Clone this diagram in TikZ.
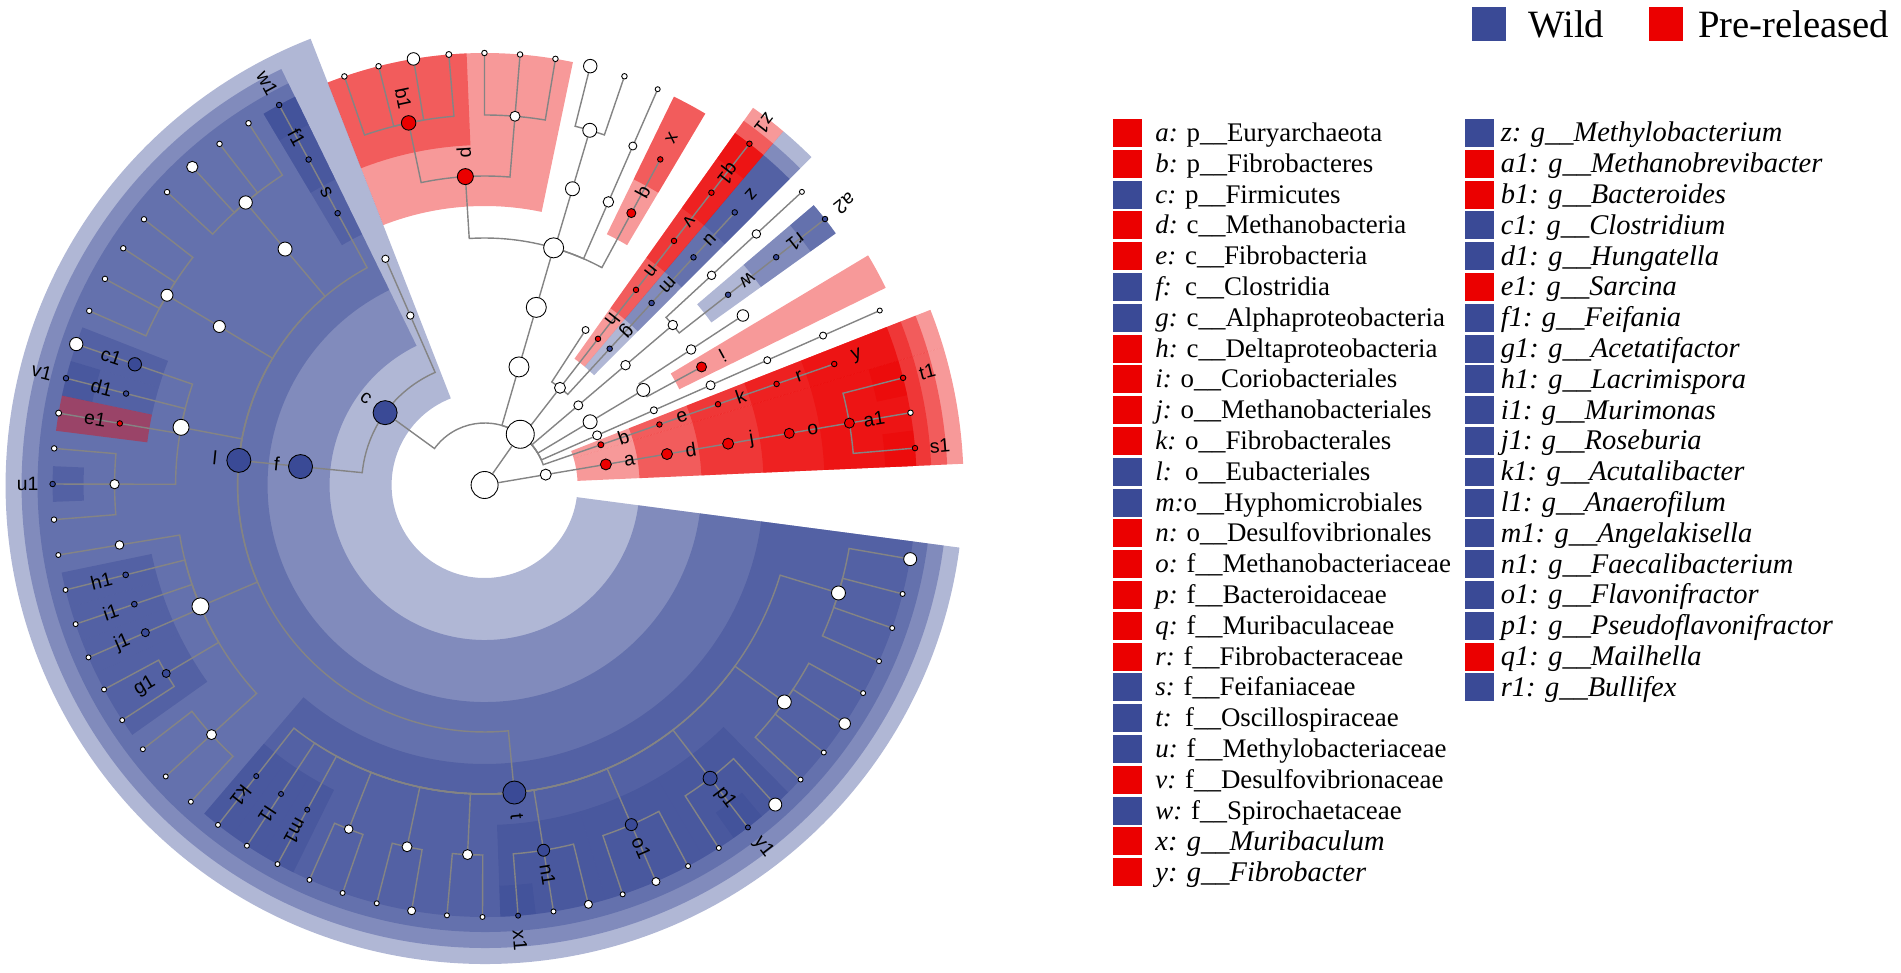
\documentclass[tikz,border=0pt]{standalone}
\usepackage{fontspec}
\setmainfont{Liberation Serif}
\newfontfamily\labfont{Liberation Sans}
\usetikzlibrary{calc,positioning}
\definecolor{wildblue}{RGB}{58,74,150}
\definecolor{prered}{RGB}{235,0,0}
\definecolor{brgray}{RGB}{132,132,132}
\pgfdeclarelayer{shade}
\pgfdeclarelayer{branch}
\pgfsetlayers{shade,branch,main}
\newcommand\clade[5]{\fill[#1] (#2:#4) arc[start angle=#2,end angle=#3,radius=#4*0.2mm] -- (#3:#5) arc[start angle=#3,end angle=#2,radius=#5*0.2mm] -- cycle;}

\begin{document}
\begin{tikzpicture}[x=0.2mm,y=0.2mm,
  nd/.style={circle,draw=black,line width=0.5pt,inner sep=0pt,minimum size=#1*0.2mm},
  wn/.style={nd=#1,fill=white},
  rn/.style={nd=#1,fill=prered},
  bn/.style={nd=#1,fill=wildblue},
  rw/.style={fill=prered,fill opacity=0.4},
  bw/.style={fill=wildblue,fill opacity=0.4},
  brl/.style={draw=brgray,line width=0.8pt},
  br/.style={brl,to path={let \p0=(ctr),\p1=(\tikztostart),\p2=(\tikztotarget),
    \n1={mod(atan2(\y1-\y0,\x1-\x0)+360,360)},\n2={mod(atan2(\y2-\y0,\x2-\x0)+360,360)},
    \n3={veclen(\x1-\x0,\y1-\y0)} in (\tikztostart.center) arc[start angle=\n1,end angle=\n2,radius=\n3] -- (\tikztotarget)}},
  lab/.style={font=\labfont\fontsize{11}{13}\selectfont,inner sep=0pt},
  lsq/.style={minimum width=5.8mm,minimum height=5.6mm,inner sep=0pt,outer sep=0pt},
  ltx/.style={font=\fontsize{15.3}{18}\selectfont,inner sep=0pt,text height=10.4pt,text depth=0.7pt},
  lit/.style={font=\fontsize{16.2}{19}\selectfont,inner sep=0pt,text height=10.8pt,text depth=0.7pt},
  tsq/.style={minimum size=6.8mm,inner sep=0pt,outer sep=0pt},
  ttx/.style={font=\fontsize{22}{26}\selectfont,inner sep=0pt}]
\useasboundingbox (0,0) rectangle (1901,972);

\begin{scope}[shift={(484.6,487)}]
\coordinate (ctr) at (0,0);
\node[wn=27] (root) at (0,0) {};
\node[wn=11] (arch) at (9.63:62) {};
\node[rn=11] (eury) at (9.63:123) {};
\node[rn=11] (mbac) at (9.63:185) {};
\node[rn=11] (mbal) at (9.63:247) {};
\node[rn=10] (mbce) at (9.63:309) {};
\node[rn=10] (mbre) at (9.63:370) {};
\node[rn=5.5] (ss1) at (4.90:432) {};
\node[wn=5.5] (as0) at (9.63:432) {};
\node[rn=5.5] (st1) at (14.36:432) {};

\node[wn=28] (bact) at (54.88:62) {};
\node[rn=6] (fbr) at (19.09:123) {};
\node[rn=5.5] (fbia) at (19.09:185) {};
\node[rn=5.5] (fbal) at (19.09:247) {};
\node[rn=5.5] (fbce) at (19.09:309) {};
\node[rn=5.5] (fbtr) at (19.09:370) {};
\node[wn=9] (xp) at (23.82:123) {};
\node[wn=7] (xc) at (23.82:185) {};
\node[wn=9] (xo) at (23.82:247) {};
\node[wn=7] (xf) at (23.82:309) {};
\node[wn=7] (xg) at (23.82:370) {};
\node[wn=5] (xs) at (23.82:432) {};
\node[wn=14] (acp) at (30.91:123) {};
\node[wn=13] (acc) at (30.91:185) {};
\node[rn=10] (cori) at (28.55:247) {};
\node[wn=9.5] (aco) at (33.27:247) {};
\node[wn=11.5] (acf) at (33.27:309) {};
\node[wn=9] (spp) at (40.37:123) {};
\node[wn=9.5] (spc) at (40.37:185) {};
\node[wn=9.5] (spo) at (40.37:247) {};
\node[bn=5.5] (spce) at (38.00:309) {};
\node[bn=5.5] (bull) at (38.00:370) {};
\node[bn=5.5] (sa2) at (38.00:432) {};
\node[wn=8.5] (spf) at (42.73:309) {};
\node[wn=8.5] (spg) at (42.73:370) {};
\node[wn=5] (sps) at (42.73:432) {};
\node[wn=11] (prp) at (52.19:123) {};
\node[bn=5.5] (alph) at (47.46:185) {};
\node[bn=5.5] (hyph) at (47.46:247) {};
\node[bn=5.5] (mlce) at (47.46:309) {};
\node[bn=5.5] (mlba) at (47.46:370) {};
\node[rn=5.5] (delt) at (52.19:185) {};
\node[rn=5.5] (dsal) at (52.19:247) {};
\node[rn=5.5] (dsce) at (52.19:309) {};
\node[rn=5.5] (mail) at (52.19:370) {};
\node[rn=5.5] (sz1) at (52.19:432) {};
\node[wn=7] (prc) at (56.92:185) {};
\node[wn=20] (bdp) at (73.77:123) {};
\node[wn=20] (bdc) at (73.77:185) {};
\node[wn=20] (bdo) at (73.77:247) {};
\node[rn=9] (mrce) at (61.65:309) {};
\node[rn=5.5] (mrba) at (61.65:370) {};
\node[wn=10.5] (bf2) at (66.38:309) {};
\node[wn=8] (bg2) at (66.38:370) {};
\node[wn=5] (bs2) at (66.38:432) {};
\node[wn=14] (bf3) at (73.48:309) {};
\node[wn=14] (bg3) at (73.48:370) {};
\node[wn=5.5] (bs3a) at (71.11:432) {};
\node[wn=13.5] (bs3b) at (75.84:432) {};
\node[rn=16] (bdce) at (93.57:309) {};
\node[wn=10] (bg4) at (85.29:370) {};
\node[wn=5.5] (bs4a) at (80.56:432) {};
\node[wn=5.5] (bs4b) at (85.29:432) {};
\node[wn=5.5] (bs4c) at (90.02:432) {};
\node[rn=14.5] (bdes) at (101.85:370) {};
\node[wn=6] (bs5a) at (94.75:432) {};
\node[wn=12.5] (bs5b) at (99.48:432) {};
\node[wn=5.5] (bs5c) at (104.21:432) {};
\node[wn=5.5] (bs5d) at (108.94:432) {};

\node[bn=24] (firm) at (143.98:123) {};
\node[wn=7.3] (fc2) at (113.67:185) {};
\node[wn=7.3] (fo2) at (113.67:247) {};
\node[bn=24] (clia) at (174.28:185) {};
\node[bn=24] (euba) at (174.28:247) {};
\node[bn=5.5] (feic) at (118.40:309) {};
\node[bn=5.5] (feif) at (118.40:370) {};
\node[bn=5.5] (sw1) at (118.40:432) {};
\node[wn=14] (ff1) at (130.22:309) {};
\node[wn=13.3] (fg1) at (130.22:370) {};
\node[wn=5.5] (fs1a) at (123.13:432) {};
\node[wn=5.5] (fs1b) at (127.85:432) {};
\node[wn=11.3] (fs1c) at (132.58:432) {};
\node[wn=5.5] (fs1d) at (137.31:432) {};
\node[wn=12] (ff2) at (149.14:309) {};
\node[wn=12] (fg2) at (149.14:370) {};
\node[wn=5.5] (fs2a) at (142.04:432) {};
\node[wn=5.5] (fs2b) at (146.77:432) {};
\node[wn=5.5] (fs2c) at (151.50:432) {};
\node[wn=5.5] (fs2d) at (156.23:432) {};
\node[wn=16] (ff3) at (169.24:309) {};
\node[bn=13.3] (clos) at (160.96:370) {};
\node[wn=13.3] (fs3a) at (160.96:432) {};
\node[bn=5.5] (hung) at (165.69:370) {};
\node[bn=5.5] (sv1) at (165.69:432) {};
\node[rn=5.5] (sarc) at (170.42:370) {};
\node[wn=6] (fs3b) at (170.42:432) {};
\node[wn=9.3] (fg3) at (179.87:370) {};
\node[wn=5.5] (fs3c) at (175.14:432) {};
\node[bn=5.5] (su1) at (179.87:432) {};
\node[wn=5.5] (fs3d) at (184.60:432) {};
\node[wn=17] (ff4) at (203.13:309) {};
\node[wn=8.6] (fg4) at (189.33:370) {};
\node[wn=5] (fs4a) at (189.33:432) {};
\node[bn=5.7] (lacr) at (194.06:370) {};
\node[wn=5] (fs4b) at (194.06:432) {};
\node[bn=5.7] (muri) at (198.79:370) {};
\node[wn=5] (fs4c) at (198.79:432) {};
\node[bn=8] (rose) at (203.52:370) {};
\node[wn=5] (fs4d) at (203.52:432) {};
\node[bn=8] (acet) at (210.62:370) {};
\node[wn=5] (fs4e) at (208.25:432) {};
\node[wn=5] (fs4f) at (212.98:432) {};
\node[wn=10] (fg5) at (222.43:370) {};
\node[wn=5] (fs5a) at (217.71:432) {};
\node[wn=5] (fs5b) at (222.43:432) {};
\node[wn=5] (fs5c) at (227.16:432) {};
\node[bn=23] (osci) at (275.53:309) {};
\node[bn=5] (acut) at (231.89:370) {};
\node[wn=5] (os1) at (231.89:432) {};
\node[bn=5] (anae) at (236.62:370) {};
\node[wn=5] (os2) at (236.62:432) {};
\node[bn=5] (ange) at (241.35:370) {};
\node[wn=5] (os3) at (241.35:432) {};
\node[wn=8.6] (og1) at (248.45:370) {};
\node[wn=5] (os4) at (246.08:432) {};
\node[wn=5] (os5) at (250.81:432) {};
\node[wn=10] (og2) at (257.90:370) {};
\node[wn=5] (os6) at (255.54:432) {};
\node[wn=8] (os7) at (260.27:432) {};
\node[wn=10] (og3) at (267.36:370) {};
\node[wn=5] (os8) at (265.00:432) {};
\node[wn=5] (os9) at (269.72:432) {};
\node[bn=12] (faec) at (279.18:370) {};
\node[bn=5] (sx1) at (274.45:432) {};
\node[wn=5] (os10) at (279.18:432) {};
\node[wn=8] (os11) at (283.91:432) {};
\node[bn=12] (flav) at (293.37:370) {};
\node[wn=5] (os12) at (288.64:432) {};
\node[wn=8] (os13) at (293.37:432) {};
\node[wn=5] (os14) at (298.10:432) {};
\node[bn=14] (psfl) at (307.56:370) {};
\node[wn=5] (os15) at (302.83:432) {};
\node[bn=5] (sy1) at (307.56:432) {};
\node[wn=13] (os16) at (312.29:432) {};
\node[wn=14] (og4) at (324.10:370) {};
\node[wn=5] (os17) at (317.01:432) {};
\node[wn=5] (os18) at (321.74:432) {};
\node[wn=11.5] (os19) at (326.47:432) {};
\node[wn=5] (os20) at (331.20:432) {};
\node[wn=14] (og5) at (343.03:370) {};
\node[wn=5] (os21) at (335.93:432) {};
\node[wn=5] (os22) at (340.66:432) {};
\node[wn=5] (os23) at (345.39:432) {};
\node[wn=13] (os24) at (350.12:432) {};

\begin{pgfonlayer}{branch}
\draw[brl] (root) -- (arch) (root) -- (bact);
\draw[br] (arch) edge (eury) (eury) edge (mbac) (mbac) edge (mbal) (mbal) edge (mbce) (mbce) edge (mbre) (mbre) edge (ss1) edge (as0) edge (st1);
\draw[br] (bact) edge (fbr) edge (xp) edge (acp) edge (spp) edge (prp) edge (bdp) edge (firm);
\draw[br] (fbr) edge (fbia) (fbia) edge (fbal) (fbal) edge (fbce) (fbce) edge (fbtr);
\draw[br] (xp) edge (xc) (xc) edge (xo) (xo) edge (xf) (xf) edge (xg) (xg) edge (xs);
\draw[br] (acp) edge (acc) (acc) edge (cori) edge (aco) (aco) edge (acf);
\draw[br] (spp) edge (spc) (spc) edge (spo) (spo) edge (spce) edge (spf) (spce) edge (bull) (bull) edge (sa2) (spf) edge (spg) (spg) edge (sps);
\draw[br] (prp) edge (alph) edge (delt) edge (prc) (alph) edge (hyph) (hyph) edge (mlce) (mlce) edge (mlba) (delt) edge (dsal) (dsal) edge (dsce) (dsce) edge (mail) (mail) edge (sz1);
\draw[br] (bdp) edge (bdc) (bdc) edge (bdo) (bdo) edge (mrce) edge (bf2) edge (bf3) edge (bdce) (mrce) edge (mrba) (bf2) edge (bg2) (bg2) edge (bs2) (bf3) edge (bg3) (bg3) edge (bs3a) edge (bs3b);
\draw[br] (bdce) edge (bg4) edge (bdes) (bg4) edge (bs4a) edge (bs4b) edge (bs4c) (bdes) edge (bs5a) edge (bs5b) edge (bs5c) edge (bs5d);
\draw[br] (firm) edge (fc2) edge (clia) (fc2) edge (fo2) (clia) edge (euba) (euba) edge (feic) edge (ff1) edge (ff2) edge (ff3) edge (ff4) edge (osci);
\draw[br] (feic) edge (feif) (feif) edge (sw1) (ff1) edge (fg1) (fg1) edge (fs1a) edge (fs1b) edge (fs1c) edge (fs1d) (ff2) edge (fg2) (fg2) edge (fs2a) edge (fs2b) edge (fs2c) edge (fs2d);
\draw[br] (ff3) edge (clos) edge (hung) edge (sarc) edge (fg3) (clos) edge (fs3a) (hung) edge (sv1) (sarc) edge (fs3b) (fg3) edge (fs3c) edge (su1) edge (fs3d);
\draw[br] (ff4) edge (fg4) edge (lacr) edge (muri) edge (rose) edge (acet) edge (fg5) (fg4) edge (fs4a) (lacr) edge (fs4b) (muri) edge (fs4c) (rose) edge (fs4d) (acet) edge (fs4e) edge (fs4f) (fg5) edge (fs5a) edge (fs5b) edge (fs5c);
\draw[br] (osci) edge (acut) edge (anae) edge (ange) edge (og1) edge (og2) edge (og3) edge (faec) edge (flav) edge (psfl) edge (og4) edge (og5);
\draw[br] (acut) edge (os1) (anae) edge (os2) (ange) edge (os3) (og1) edge (os4) edge (os5) (og2) edge (os6) edge (os7) (og3) edge (os8) edge (os9);
\draw[br] (faec) edge (sx1) edge (os10) edge (os11) (flav) edge (os12) edge (os13) edge (os14) (psfl) edge (os15) edge (sy1) edge (os16);
\draw[br] (og4) edge (os17) edge (os18) edge (os19) edge (os20) (og5) edge (os21) edge (os22) edge (os23) edge (os24);
\end{pgfonlayer}

\begin{pgfonlayer}{shade}
\clade{rw}{2.54}{16.72}{93}{479}
\clade{rw}{2.54}{16.72}{155}{463}
\clade{rw}{2.54}{16.72}{217}{447}
\clade{rw}{2.54}{16.72}{279}{432}
\clade{rw}{2.54}{16.72}{340}{432}
\clade{rw}{2.54}{7.26}{401}{432}
\clade{rw}{11.99}{16.72}{401}{432}
\clade{rw}{16.72}{21.45}{93}{479}
\clade{rw}{16.72}{21.45}{155}{463}
\clade{rw}{16.72}{21.45}{217}{447}
\clade{rw}{16.72}{21.45}{279}{432}
\clade{rw}{16.72}{21.45}{340}{432}
\clade{rw}{26.18}{30.91}{217}{447}
\clade{bw}{35.63}{40.37}{279}{432}
\clade{bw}{35.63}{40.37}{340}{432}
\clade{bw}{35.63}{40.37}{401}{432}
\clade{bw}{45.09}{49.82}{155}{463}
\clade{bw}{45.09}{49.82}{217}{447}
\clade{bw}{45.09}{49.82}{279}{432}
\clade{bw}{45.09}{49.82}{340}{432}
\clade{rw}{49.82}{54.56}{155}{463}
\clade{rw}{49.82}{54.56}{217}{447}
\clade{rw}{49.82}{54.56}{279}{432}
\clade{rw}{49.82}{54.56}{340}{432}
\clade{rw}{49.82}{54.56}{401}{432}
\clade{rw}{59.28}{64.01}{279}{432}
\clade{rw}{59.28}{64.01}{340}{432}
\clade{rw}{78.20}{111.30}{279}{432}
\clade{rw}{92.39}{111.30}{340}{432}
\clade{bw}{111.30}{352.49}{93}{479}
\clade{bw}{116.04}{352.49}{155}{463}
\clade{bw}{116.04}{352.49}{217}{447}
\clade{bw}{116.04}{120.77}{279}{432}
\clade{bw}{116.04}{120.77}{340}{432}
\clade{bw}{116.04}{120.77}{401}{432}
\clade{bw}{158.59}{163.32}{340}{432}
\clade{bw}{163.32}{168.06}{340}{432}
\clade{bw}{163.32}{168.06}{401}{432}
\clade{rw}{168.06}{172.79}{340}{432}
\clade{bw}{177.50}{182.24}{401}{432}
\clade{bw}{191.70}{196.43}{340}{432}
\clade{bw}{196.43}{201.16}{340}{432}
\clade{bw}{201.16}{205.88}{340}{432}
\clade{bw}{205.88}{215.35}{340}{432}
\clade{bw}{229.53}{352.49}{279}{432}
\clade{bw}{229.53}{234.26}{340}{432}
\clade{bw}{234.26}{238.99}{340}{432}
\clade{bw}{238.99}{243.72}{340}{432}
\clade{bw}{272.09}{286.27}{340}{432}
\clade{bw}{272.09}{276.82}{401}{432}
\clade{bw}{286.27}{300.46}{340}{432}
\clade{bw}{300.46}{314.65}{340}{432}
\clade{bw}{305.20}{309.93}{401}{432}
\end{pgfonlayer}

\node[lab,rotate=9.63] (ta) at (9.63:147) {a};
\node[lab,rotate=9.63] (td) at (9.63:209) {d};
\node[lab,rotate=9.63] (tj) at (9.63:271) {j};
\node[lab,rotate=9.63] (tlo) at (9.63:333) {o};
\node[lab,rotate=9.63] (ta1) at (9.63:395) {a1};
\node[lab,rotate=4.90] (ts1) at (4.90:457) {s1};
\node[lab,rotate=14.36] (tt1) at (14.36:457) {t1};
\node[lab,rotate=19.09] (tb) at (19.09:147) {b};
\node[lab,rotate=19.09] (te) at (19.09:209) {e};
\node[lab,rotate=19.09] (tk) at (19.09:271) {k};
\node[lab,rotate=19.09] (tr) at (19.09:333) {r};
\node[lab,rotate=19.09] (ty) at (19.09:394) {y};
\node[lab,rotate=-151.45] (ti) at (28.55:271) {i};
\node[lab,rotate=-142] (tw) at (38.00:333) {w};
\node[lab,rotate=-142] (tr1) at (38.00:395) {r1};
\node[lab,rotate=-142] (ta2) at (38.00:457) {a2};
\node[lab,rotate=-132.54] (tg) at (47.46:209) {g};
\node[lab,rotate=-132.54] (tm) at (47.46:271) {m};
\node[lab,rotate=-132.54] (tu) at (47.46:333) {u};
\node[lab,rotate=-132.54] (tz) at (47.46:394) {z};
\node[lab,rotate=-127.81] (th) at (52.19:209) {h};
\node[lab,rotate=-127.81] (tn) at (52.19:271) {n};
\node[lab,rotate=-127.81] (tv) at (52.19:333) {v};
\node[lab,rotate=-127.81] (tq1) at (52.19:395) {q1};
\node[lab,rotate=-127.81] (tz1) at (52.19:457) {z1};
\node[lab,rotate=-118.35] (tq) at (61.65:333) {q};
\node[lab,rotate=-118.35] (tx) at (61.65:394) {x};
\node[lab,rotate=-86.43] (tp) at (93.57:333) {p};
\node[lab,rotate=-78.15] (tb1) at (101.85:395) {b1};
\node[lab,rotate=-36.02] (tc) at (143.98:147) {c};
\node[lab,rotate=-5.72] (tf) at (174.28:209) {f};
\node[lab,rotate=-5.72] (tl) at (174.28:271) {l};
\node[lab,rotate=-61.6] (ts) at (118.40:333) {s};
\node[lab,rotate=-61.6] (tf1) at (118.40:395) {f1};
\node[lab,rotate=-61.6] (tw1) at (118.40:457) {w1};
\node[lab,rotate=-19.04] (tc1) at (160.96:395) {c1};
\node[lab,rotate=-14.31] (td1) at (165.69:395) {d1};
\node[lab,rotate=-14.31] (tv1) at (165.69:457) {v1};
\node[lab,rotate=-9.58] (te1) at (170.42:395) {e1};
\node[lab,rotate=-0.13] (tu1) at (179.87:457) {u1};
\node[lab,rotate=14.06] (th1) at (194.06:395) {h1};
\node[lab,rotate=18.79] (ti1) at (198.79:395) {i1};
\node[lab,rotate=23.52] (tj1) at (203.52:395) {j1};
\node[lab,rotate=30.62] (tg1) at (210.62:395) {g1};
\node[lab,rotate=231.89] (tk1) at (231.89:395) {k1};
\node[lab,rotate=236.62] (tl1) at (236.62:395) {l1};
\node[lab,rotate=241.35] (tm1) at (241.35:395) {m1};
\node[lab,rotate=275.53] (tt) at (275.53:333) {t};
\node[lab,rotate=274.45] (tx1) at (274.45:457) {x1};
\node[lab,rotate=279.18] (tn1) at (279.18:395) {n1};
\node[lab,rotate=293.37] (tlo1) at (293.37:395) {o1};
\node[lab,rotate=307.56] (tp1) at (307.56:395) {p1};
\node[lab,rotate=307.56] (ty1) at (307.56:457) {y1};
\end{scope}

\node[tsq,fill=wildblue] (kwild) at (1489,948) {};
\node[ttx,right=4.4mm of kwild] (nwild) {Wild};
\node[tsq,fill=prered] (kpre) at (1665.7,948) {};
\node[ttx,right=3mm of kpre] (npre) {Pre-released};

\node[lsq,fill=prered] (ka) at (1127.5,839) {};
\node[ltx,right=2.6mm of ka] (na) {\textit{a:} p\_\_Euryarchaeota};
\node[lsq,fill=prered,below=0.56mm of ka] (kb) {};
\node[ltx,right=2.6mm of kb] (nb) {\textit{b:} p\_\_Fibrobacteres};
\node[lsq,fill=wildblue,below=0.56mm of kb] (kc) {};
\node[ltx,right=2.6mm of kc] (nc) {\textit{c:} p\_\_Firmicutes};
\node[lsq,fill=prered,below=0.56mm of kc] (kd) {};
\node[ltx,right=2.6mm of kd] (nd) {\textit{d:} c\_\_Methanobacteria};
\node[lsq,fill=prered,below=0.56mm of kd] (ke) {};
\node[ltx,right=2.6mm of ke] (ne) {\textit{e:} c\_\_Fibrobacteria};
\node[lsq,fill=wildblue,below=0.56mm of ke] (kf) {};
\node[ltx,right=2.6mm of kf] (nf) {\textit{f:}\ \ c\_\_Clostridia};
\node[lsq,fill=wildblue,below=0.56mm of kf] (kg) {};
\node[ltx,right=2.6mm of kg] (ng) {\textit{g:} c\_\_Alphaproteobacteria};
\node[lsq,fill=prered,below=0.56mm of kg] (kh) {};
\node[ltx,right=2.6mm of kh] (nh) {\textit{h:} c\_\_Deltaproteobacteria};
\node[lsq,fill=prered,below=0.56mm of kh] (ki) {};
\node[ltx,right=2.6mm of ki] (ni) {\textit{i:} o\_\_Coriobacteriales};
\node[lsq,fill=prered,below=0.56mm of ki] (kj) {};
\node[ltx,right=2.6mm of kj] (nj) {\textit{j:} o\_\_Methanobacteriales};
\node[lsq,fill=prered,below=0.56mm of kj] (kk) {};
\node[ltx,right=2.6mm of kk] (nk) {\textit{k:} o\_\_Fibrobacterales};
\node[lsq,fill=wildblue,below=0.56mm of kk] (kl) {};
\node[ltx,right=2.6mm of kl] (nl) {\textit{l:}\ \ o\_\_Eubacteriales};
\node[lsq,fill=wildblue,below=0.56mm of kl] (km) {};
\node[ltx,right=2.6mm of km] (nm) {\textit{m:}o\_\_Hyphomicrobiales};
\node[lsq,fill=prered,below=0.56mm of km] (kn) {};
\node[ltx,right=2.6mm of kn] (nn) {\textit{n:} o\_\_Desulfovibrionales};
\node[lsq,fill=prered,below=0.56mm of kn] (ko) {};
\node[ltx,right=2.6mm of ko] (no) {\textit{o:} f\_\_Methanobacteriaceae};
\node[lsq,fill=prered,below=0.56mm of ko] (kp) {};
\node[ltx,right=2.6mm of kp] (np) {\textit{p:} f\_\_Bacteroidaceae};
\node[lsq,fill=prered,below=0.56mm of kp] (kq) {};
\node[ltx,right=2.6mm of kq] (nq) {\textit{q:} f\_\_Muribaculaceae};
\node[lsq,fill=prered,below=0.56mm of kq] (kr) {};
\node[ltx,right=2.6mm of kr] (nr) {\textit{r:} f\_\_Fibrobacteraceae};
\node[lsq,fill=wildblue,below=0.56mm of kr] (ks) {};
\node[ltx,right=2.6mm of ks] (ns) {\textit{s:} f\_\_Feifaniaceae};
\node[lsq,fill=wildblue,below=0.56mm of ks] (kt) {};
\node[ltx,right=2.6mm of kt] (nt) {\textit{t:}\ \ f\_\_Oscillospiraceae};
\node[lsq,fill=wildblue,below=0.56mm of kt] (ku) {};
\node[ltx,right=2.6mm of ku] (nu) {\textit{u:} f\_\_Methylobacteriaceae};
\node[lsq,fill=prered,below=0.56mm of ku] (kv) {};
\node[ltx,right=2.6mm of kv] (nv) {\textit{v:} f\_\_Desulfovibrionaceae};
\node[lsq,fill=wildblue,below=0.56mm of kv] (kw) {};
\node[ltx,right=2.6mm of kw] (nw) {\textit{w:} f\_\_Spirochaetaceae};
\node[lsq,fill=prered,below=0.56mm of kw] (kx) {};
\node[lit,right=2.6mm of kx] (nx) {\textit{x: g\_\_Muribaculum}};
\node[lsq,fill=prered,below=0.56mm of kx] (ky) {};
\node[lit,right=2.6mm of ky] (ny) {\textit{y: g\_\_Fibrobacter}};

\node[lsq,fill=wildblue] (kz) at (1479,839) {};
\node[lit,right=1.4mm of kz] (nz) {\textit{z: g\_\_Methylobacterium}};
\node[lsq,fill=prered,below=0.56mm of kz] (ka1) {};
\node[lit,right=1.4mm of ka1] (na1) {\textit{a1: g\_\_Methanobrevibacter}};
\node[lsq,fill=prered,below=0.56mm of ka1] (kb1) {};
\node[lit,right=1.4mm of kb1] (nb1) {\textit{b1: g\_\_Bacteroides}};
\node[lsq,fill=wildblue,below=0.56mm of kb1] (kc1) {};
\node[lit,right=1.4mm of kc1] (nc1) {\textit{c1: g\_\_Clostridium}};
\node[lsq,fill=wildblue,below=0.56mm of kc1] (kd1) {};
\node[lit,right=1.4mm of kd1] (nd1) {\textit{d1: g\_\_Hungatella}};
\node[lsq,fill=prered,below=0.56mm of kd1] (ke1) {};
\node[lit,right=1.4mm of ke1] (ne1) {\textit{e1: g\_\_Sarcina}};
\node[lsq,fill=wildblue,below=0.56mm of ke1] (kf1) {};
\node[lit,right=1.4mm of kf1] (nf1) {\textit{f1: g\_\_Feifania}};
\node[lsq,fill=wildblue,below=0.56mm of kf1] (kg1) {};
\node[lit,right=1.4mm of kg1] (ng1) {\textit{g1: g\_\_Acetatifactor}};
\node[lsq,fill=wildblue,below=0.56mm of kg1] (kh1) {};
\node[lit,right=1.4mm of kh1] (nh1) {\textit{h1: g\_\_Lacrimispora}};
\node[lsq,fill=wildblue,below=0.56mm of kh1] (ki1) {};
\node[lit,right=1.4mm of ki1] (ni1) {\textit{i1: g\_\_Murimonas}};
\node[lsq,fill=wildblue,below=0.56mm of ki1] (kj1) {};
\node[lit,right=1.4mm of kj1] (nj1) {\textit{j1: g\_\_Roseburia}};
\node[lsq,fill=wildblue,below=0.56mm of kj1] (kk1) {};
\node[lit,right=1.4mm of kk1] (nk1) {\textit{k1: g\_\_Acutalibacter}};
\node[lsq,fill=wildblue,below=0.56mm of kk1] (kl1) {};
\node[lit,right=1.4mm of kl1] (nl1) {\textit{l1: g\_\_Anaerofilum}};
\node[lsq,fill=wildblue,below=0.56mm of kl1] (km1) {};
\node[lit,right=1.4mm of km1] (nm1) {\textit{m1: g\_\_Angelakisella}};
\node[lsq,fill=wildblue,below=0.56mm of km1] (kn1) {};
\node[lit,right=1.4mm of kn1] (nn1) {\textit{n1: g\_\_Faecalibacterium}};
\node[lsq,fill=wildblue,below=0.56mm of kn1] (ko1) {};
\node[lit,right=1.4mm of ko1] (no1) {\textit{o1: g\_\_Flavonifractor}};
\node[lsq,fill=wildblue,below=0.56mm of ko1] (kp1) {};
\node[lit,right=1.4mm of kp1] (np1) {\textit{p1: g\_\_Pseudoflavonifractor}};
\node[lsq,fill=prered,below=0.56mm of kp1] (kq1) {};
\node[lit,right=1.4mm of kq1] (nq1) {\textit{q1: g\_\_Mailhella}};
\node[lsq,fill=wildblue,below=0.56mm of kq1] (kr1) {};
\node[lit,right=1.4mm of kr1] (nr1) {\textit{r1: g\_\_Bullifex}};
\end{tikzpicture}
\end{document}
